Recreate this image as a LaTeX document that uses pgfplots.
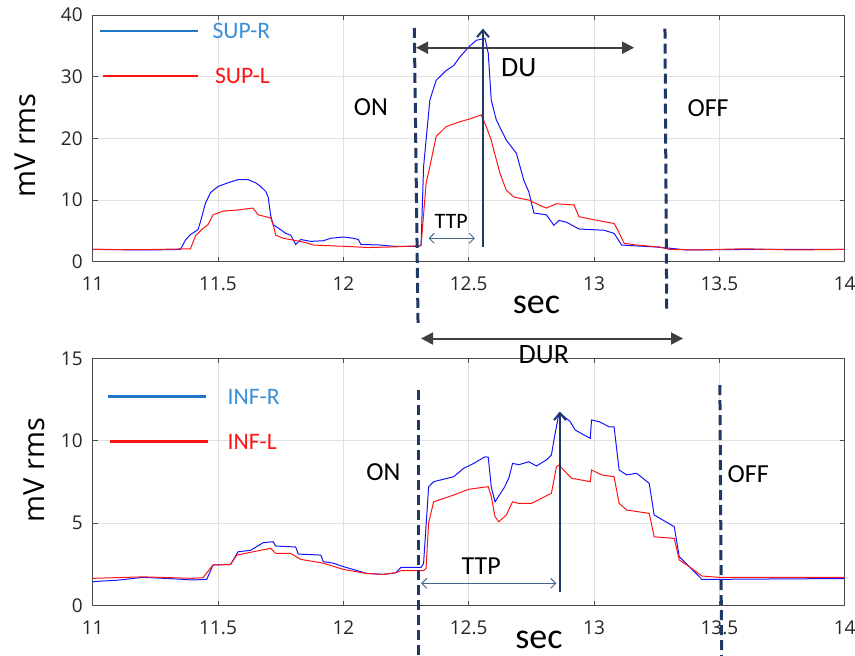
\documentclass[border=0pt]{standalone}
\usepackage{pgfplots}
\pgfplotsset{compat=1.18}
\usetikzlibrary{arrows.meta}
\usepackage{fontspec}
\setmainfont{Open Sans}
\newfontfamily\calfont{Carlito}

\definecolor{navy}{RGB}{31,56,100}
\definecolor{arrgray}{RGB}{64,64,64}
\definecolor{legblue}{RGB}{31,119,200}
\definecolor{legbluetxt}{RGB}{58,143,214}
\definecolor{ttpblue}{RGB}{68,105,143}
\definecolor{gridgray}{RGB}{225,225,225}
\definecolor{sigblue}{RGB}{20,20,255}
\definecolor{sigred}{RGB}{255,20,20}

\pgfplotsset{
  emg/.style={
    scale only axis, width=376pt,
    xmin=11, xmax=14, ymin=0,
    xtick={11,11.5,...,14},
    xticklabels={11,11.5,12,12.5,13,13.5,14},
    tick align=inside, major tick length=2.5pt,
    grid=major, major grid style={gridgray, line width=0.4pt},
    axis line style={black!70, line width=0.5pt},
    tick style={black!70, line width=0.5pt},
    ticklabel style={font=\fontsize{9.5}{10}\selectfont, text=black!85},
    /pgf/number format/assume math mode=true,
    xticklabel style={yshift=-4pt},
    yticklabel style={xshift=-1.5pt},
    clip=false,
  },
  sig/.style={line width=0.5pt},
}
\tikzset{
  lab/.style={font=\calfont\fontsize{13}{14}\selectfont},
  leg/.style={anchor=west, font=\calfont\fontsize{11.8}{13}\selectfont},
}

\begin{document}
\begin{tikzpicture}
\path[use as bounding box] (-46.35pt,-196.65pt) rectangle (381.15pt,130.85pt);

% upper panel
\begin{axis}[emg, height=123.35pt, ymax=40, ytick={0,10,20,30,40}]
\addplot[sig, sigblue] coordinates {
(11.00,2.0)(11.10,1.95)(11.20,1.9)(11.30,1.95)(11.35,2.0)(11.37,3.5)(11.39,4.4)
(11.42,5.2)(11.43,6.5)(11.45,9.5)(11.47,11.2)(11.50,12.2)(11.54,12.8)(11.58,13.3)
(11.62,13.3)(11.65,12.8)(11.67,12.2)(11.69,11.4)(11.70,10.5)(11.71,7.5)(11.72,6.0)
(11.75,5.2)(11.77,4.6)(11.79,4.3)(11.81,2.8)(11.83,3.6)(11.87,3.3)(11.92,3.4)
(11.95,3.8)(12.00,4.0)(12.04,3.8)(12.06,3.6)(12.07,2.8)(12.15,2.7)(12.20,2.5)
(12.30,2.5)(12.31,2.7)(12.32,15.4)(12.345,26.2)(12.37,29.4)(12.41,31.0)(12.44,31.8)
(12.465,33.2)(12.50,34.8)(12.53,35.9)(12.565,36.2)(12.578,33.8)(12.59,26.2)
(12.61,23.0)(12.65,19.7)(12.69,17.6)(12.72,13.2)(12.74,11.3)(12.76,7.9)(12.81,7.6)
(12.84,5.9)(12.86,6.7)(12.89,6.4)(12.94,5.3)(13.04,5.1)(13.08,4.6)(13.11,2.7)
(13.24,2.4)(13.30,2.2)(13.37,1.9)(13.63,2.0)(14.00,2.0)
};
\addplot[sig, sigred] coordinates {
(11.00,2.0)(11.20,1.95)(11.39,2.1)(11.41,4.2)(11.44,5.4)(11.46,6.0)(11.48,7.6)
(11.52,8.2)(11.58,8.4)(11.64,8.7)(11.66,7.6)(11.71,7.1)(11.72,6.0)(11.73,4.3)
(11.76,3.8)(11.80,3.5)(11.85,3.1)(11.88,2.7)(12.00,2.5)(12.10,2.3)(12.20,2.4)
(12.31,2.6)(12.33,12.7)(12.345,15.4)(12.37,20.3)(12.41,21.9)(12.465,22.7)
(12.50,23.1)(12.55,23.8)(12.57,21.9)(12.59,19.7)(12.60,18.1)(12.625,14.3)
(12.65,11.6)(12.68,10.5)(12.70,10.3)(12.74,10.0)(12.78,9.2)(12.81,8.7)(12.85,9.4)
(12.92,9.2)(12.94,7.3)(13.00,6.8)(13.08,6.2)(13.095,5.1)(13.12,3.0)(13.17,2.7)
(13.26,2.4)(13.30,2.0)(13.40,1.9)(13.60,2.1)(13.80,1.9)(14.00,2.0)
};
\node[rotate=90, font=\fontsize{14.5}{15}\selectfont] at ([xshift=-33.5pt,yshift=-3.5pt]rel axis cs:0,0.5) {mV rms};
% legend
\draw[legblue, line width=1.3pt] (axis cs:11.03,37.4) -- (axis cs:11.42,37.4);
\node[leg, text=legbluetxt] at (axis cs:11.45,37.4) {SUP-R};
\draw[sigred, line width=1.3pt] (axis cs:11.04,30.1) -- (axis cs:11.42,30.1);
\node[leg, text=sigred] at (axis cs:11.46,30.1) {SUP-L};
% annotations
\draw[navy, line width=1.5pt, dash pattern=on 5pt off 2.5pt] (axis cs:12.283,37.9) -- (axis cs:12.298,-10.3);
\draw[navy, line width=1.5pt, dash pattern=on 5pt off 2.5pt] (axis cs:13.283,37.8) -- (axis cs:13.29,-8.3);
\draw[arrgray, line width=1pt, {Triangle[length=6pt,width=6pt]}-{Triangle[length=6pt,width=6pt]}] (axis cs:12.29,34.7) -- (axis cs:13.16,34.7);
\node[font=\calfont\fontsize{14}{15}\selectfont] at (axis cs:12.70,31.4) {DU};
\draw[navy, line width=1pt, -{Straight Barb[length=3.5pt,width=6pt]}] (axis cs:12.557,2.4) -- (axis cs:12.557,37.8);
\draw[ttpblue, line width=0.5pt, {Straight Barb[length=2.5pt,width=5pt]}-{Straight Barb[length=2.5pt,width=5pt]}] (axis cs:12.34,3.8) -- (axis cs:12.525,3.8);
\node[font=\calfont\fontsize{11}{12}\selectfont] at (axis cs:12.43,6.5) {TTP};
\node[lab] at (axis cs:12.11,25.1) {ON};
\node[lab] at (axis cs:13.455,24.9) {OFF};
\node[font=\calfont\fontsize{18}{19}\selectfont] at (axis cs:12.77,-7.0) {sec};
\end{axis}

% lower panel
\begin{axis}[emg, at={(0pt,-172pt)}, height=123.7pt, ymax=15, ytick={0,5,10,15}]
\addplot[sig, sigblue] coordinates {
(11.00,1.46)(11.10,1.55)(11.20,1.72)(11.30,1.65)(11.40,1.56)(11.455,1.6)(11.48,2.47)
(11.55,2.5)(11.58,3.27)(11.63,3.36)(11.68,3.82)(11.72,3.88)(11.73,3.62)(11.81,3.56)
(11.82,3.13)(11.91,3.07)(11.92,2.67)(11.96,2.58)(12.00,2.37)(12.07,2.06)(12.09,1.96)
(12.16,1.9)(12.21,2.0)(12.23,2.33)(12.31,2.33)(12.32,2.57)(12.34,7.2)(12.36,7.52)
(12.44,7.82)(12.48,8.33)(12.52,8.63)(12.565,9.03)(12.578,9.0)(12.59,7.2)(12.605,6.3)
(12.64,7.12)(12.66,7.73)(12.675,8.63)(12.70,8.55)(12.74,8.73)(12.77,8.47)(12.81,8.84)
(12.83,9.14)(12.84,10.05)(12.86,11.67)(12.87,11.6)(12.905,11.16)(12.925,10.65)
(12.96,10.35)(12.985,10.15)(12.99,11.26)(13.02,11.16)(13.06,10.85)(13.08,10.85)
(13.10,8.23)(13.13,7.93)(13.17,8.03)(13.22,7.42)(13.24,5.5)(13.32,4.79)(13.34,2.97)
(13.38,2.37)(13.43,1.6)(13.50,1.6)(13.70,1.62)(14.00,1.65)
};
\addplot[sig, sigred] coordinates {
(11.00,1.66)(11.20,1.75)(11.40,1.66)(11.44,1.7)(11.48,2.47)(11.55,2.5)(11.575,3.07)
(11.67,3.36)(11.71,3.48)(11.73,3.17)(11.79,3.17)(11.83,2.81)(11.92,2.58)(12.00,2.2)
(12.09,1.96)(12.16,1.9)(12.21,2.0)(12.23,2.13)(12.32,2.13)(12.33,2.27)(12.34,5.0)
(12.36,6.3)(12.44,6.71)(12.50,7.06)(12.578,7.22)(12.59,6.61)(12.605,5.4)(12.62,5.09)
(12.65,5.5)(12.675,6.3)(12.70,6.2)(12.75,6.2)(12.83,6.82)(12.85,8.43)(12.86,8.53)
(12.91,7.73)(12.985,7.52)(12.99,8.23)(13.03,7.93)(13.08,7.82)(13.10,6.21)(13.13,5.8)
(13.22,5.6)(13.24,4.18)(13.32,4.08)(13.34,2.77)(13.38,2.37)(13.43,1.8)(13.50,1.72)
(14.00,1.72)
};
\node[rotate=90, font=\fontsize{14.5}{15}\selectfont] at ([xshift=-29pt,yshift=6pt]rel axis cs:0,0.5) {mV rms};
% legend
\draw[legblue, line width=1.3pt] (axis cs:11.06,12.67) -- (axis cs:11.45,12.67);
\node[leg, text=legbluetxt] at (axis cs:11.51,12.67) {INF-R};
\draw[sigred, line width=1.3pt] (axis cs:11.07,9.95) -- (axis cs:11.46,9.95);
\node[leg, text=sigred] at (axis cs:11.51,9.95) {INF-L};
% annotations
\draw[navy, line width=1.5pt, dash pattern=on 5pt off 2.5pt] (axis cs:12.30,13.08) -- (axis cs:12.30,-3.3);
\draw[navy, line width=1.5pt, dash pattern=on 5pt off 2.5pt] (axis cs:13.502,13.38) -- (axis cs:13.509,-3.3);
\draw[arrgray, line width=1pt, {Triangle[length=6pt,width=6pt]}-{Triangle[length=6pt,width=6pt]}] (axis cs:12.31,16.2) -- (axis cs:13.355,16.2);
\node[font=\calfont\fontsize{14}{15}\selectfont] at (axis cs:12.80,15.2) {DUR};
\draw[navy, line width=1pt, -{Straight Barb[length=3.5pt,width=6pt]}] (axis cs:12.864,0.85) -- (axis cs:12.864,11.77);
\draw[ttpblue, line width=0.5pt, {Straight Barb[length=2.5pt,width=5pt]}-{Straight Barb[length=2.5pt,width=5pt]}] (axis cs:12.31,1.36) -- (axis cs:12.85,1.36);
\node[font=\calfont\fontsize{13}{14}\selectfont] at (axis cs:12.55,2.4) {TTP};
\node[lab] at (axis cs:12.16,8.1) {ON};
\node[lab] at (axis cs:13.615,8.0) {OFF};
\node[font=\calfont\fontsize{18}{19}\selectfont] at (axis cs:12.78,-2.1) {sec};
\end{axis}
\end{tikzpicture}
\end{document}
